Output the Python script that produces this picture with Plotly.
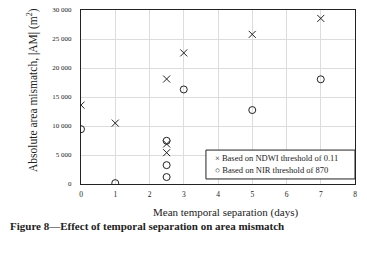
import plotly.graph_objects as go

ndwi_x = [0, 1, 2.5, 2.5, 2.5, 3, 5, 7]
ndwi_y = [13600, 10500, 18100, 6900, 5400, 22600, 25800, 28550]
nir_x = [0, 1, 2.5, 2.5, 2.5, 3, 5, 7]
nir_y = [9450, 150, 7450, 3250, 1200, 16300, 12750, 18050]

y_ticks = [0, 5000, 10000, 15000, 20000, 25000, 30000]
y_labels = ["0", "5 000", "10 000", "15 000", "20 000", "25 000", "30 000"]
x_ticks = list(range(0, 9))
legend_labels = ["Based on NDWI threshold of 0.11", "Based on NIR threshold of 870"]
x_title = "Mean temporal separation (days)"
y_title = "Absolute area mismatch, |AM| (m<sup>2</sup>)"
caption = "Figure 8—Effect of temporal separation on area mismatch"

font = "Liberation Serif"
ink = "#222"
fig = go.Figure()
fig.add_trace(go.Scatter(
    x=ndwi_x, y=ndwi_y, mode="markers", name=legend_labels[0],
    marker=dict(symbol="x-thin", size=7, color=ink, line=dict(width=1, color=ink))))
fig.add_trace(go.Scatter(
    x=nir_x, y=nir_y, mode="markers", name=legend_labels[1],
    marker=dict(symbol="circle-open", size=7, color=ink, line=dict(width=1, color=ink))))

fig.update_layout(
    width=367, height=254,
    margin=dict(l=81, r=12, t=10, b=70),
    paper_bgcolor="white", plot_bgcolor="white",
    font=dict(family=font, size=8, color=ink),
    showlegend=False,
    xaxis=dict(range=[0, 8], tickvals=x_ticks, showgrid=True, gridcolor="#dcdcdc",
               showline=True, linecolor=ink, linewidth=1, mirror=True, zeroline=False,
               ticks="", tickfont=dict(size=7.5), automargin=False, ticklabelstandoff=3),
    yaxis=dict(range=[0, 30000], tickvals=y_ticks, ticktext=y_labels, showgrid=True,
               gridcolor="#dcdcdc", showline=True, linecolor=ink, linewidth=1, mirror=True,
               zeroline=False, ticks="", tickfont=dict(size=7), automargin=False,
               ticklabelstandoff=7),
    shapes=[dict(type="rect", xref="paper", yref="paper", x0=0.456, x1=1.0, y0=0.029, y1=0.195,
                 line=dict(color=ink, width=1), fillcolor="white", layer="above")],
    annotations=[
        dict(text="× " + legend_labels[0], xref="paper", yref="paper", x=0.48, y=0.149,
             xanchor="left", yanchor="middle", showarrow=False, font=dict(size=8.5, color=ink)),
        dict(text="○ " + legend_labels[1], xref="paper", yref="paper", x=0.48, y=0.078,
             xanchor="left", yanchor="middle", showarrow=False, font=dict(size=8.5, color=ink)),
        dict(text=x_title, xref="paper", yref="paper", x=0.526, y=-0.165,
             xanchor="center", yanchor="middle", showarrow=False, font=dict(size=11, color=ink)),
        dict(text=y_title, xref="paper", yref="paper", x=-0.179, y=0.54, textangle=-90,
             xanchor="center", yanchor="middle", showarrow=False, font=dict(size=11.5, color=ink)),
        dict(text="<b>" + caption + "</b>",
             xref="paper", yref="paper", x=-0.266, y=-0.241, xanchor="left", yanchor="middle",
             showarrow=False, font=dict(family=font, size=11, color=ink)),
    ],
)
fig.write_html("out.html", config={"displayModeBar": False},
               post_script="document.body.style.margin='0';document.body.style.overflow='hidden';")
